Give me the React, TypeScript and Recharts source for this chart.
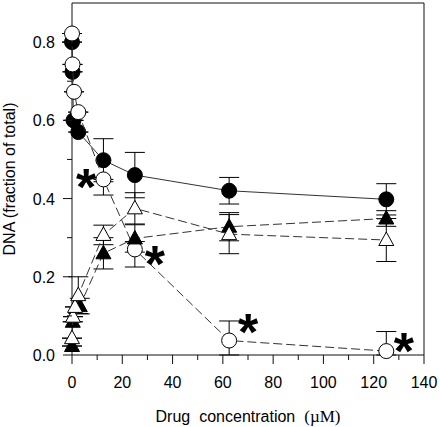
import { ScatterChart, Scatter, XAxis, YAxis, ErrorBar, ReferenceLine } from "recharts";

// filled circles (solid line)
const fcX = [0, 0.2, 0.6, 2.5, 12.5, 25, 62.5, 125];
const fcY = [0.8, 0.724, 0.6, 0.57, 0.498, 0.46, 0.42, 0.398];
const fcLo = [0, 0, 0, 0, 0.055, 0.058, 0.034, 0.04];
const fcHi = [0, 0, 0, 0, 0.055, 0.058, 0.034, 0.04];

// open circles (dashed)
const ocX = [0, 0.2, 0.8, 2.5, 12.5, 25, 62.5, 125];
const ocY = [0.822, 0.743, 0.673, 0.621, 0.449, 0.27, 0.037, 0.01];
const ocLo = [0, 0, 0, 0, 0.04, 0.045, 0.037, 0.01];
const ocHi = [0, 0, 0, 0, 0, 0.02, 0.05, 0.05];

// open triangles (dashed)
const otX = [0, 0.4, 1.2, 2.5, 12.5, 25, 62.5, 125];
const otY = [0.043, 0.098, 0.123, 0.153, 0.307, 0.375, 0.309, 0.294];
const otErr = [0, 0, 0, 0.047, 0.025, 0.04, 0.05, 0.055];

// filled triangles (dashed)
const ftX = [0, 0.3, 3.1, 12.5, 25, 62.5, 125];
const ftY = [0.023, 0.085, 0.125, 0.26, 0.298, 0.328, 0.349];
const ftErr = [0, 0, 0.02, 0.04, 0.035, 0.036, 0.02];

// significance marks
const starX = [5.6, 33, 70, 132];
const starY = [0.447, 0.25, 0.077, 0.028];

const xTicks = [0, 10, 20, 30, 40, 50, 60, 70, 80, 90, 100, 110, 120, 130, 140];
const yTicks = [0, 0.1, 0.2, 0.3, 0.4, 0.5, 0.6, 0.7, 0.8];

const build = (xs: number[], ys: number[], lo: number[], hi: number[]) =>
  xs.map((x, i) => ({ x, y: ys[i], err: [lo[i], hi[i]] }));

const fcData = build(fcX, fcY, fcLo, fcHi);
const ocData = build(ocX, ocY, ocLo, ocHi);
const otData = build(otX, otY, otErr, otErr);
const ftData = build(ftX, ftY, ftErr, ftErr);
const starData = starX.map((x, i) => ({ x, y: starY[i] }));

const FONT = "'Liberation Sans', Arial, sans-serif";
const INK = "#111";

const XTick = (p: any) => {
  const v = p.payload.value;
  const major = v % 20 === 0;
  return (
    <g>
      <line x1={p.x} x2={p.x} y1={p.y} y2={p.y + (major ? 9 : 5)} stroke={INK} />
      {major && (
        <text x={p.x} y={p.y + 33} textAnchor="middle" fontSize={16} fontFamily={FONT} fill="#000">
          {v}
        </text>
      )}
    </g>
  );
};

const YTick = (p: any) => {
  const v = p.payload.value;
  const major = Math.round(v * 10) % 2 === 0;
  return (
    <g>
      <line x1={p.x} x2={p.x - (major ? 9 : 5)} y1={p.y} y2={p.y} stroke={INK} />
      {major && (
        <text x={p.x - 17} y={p.y + 6} textAnchor="end" fontSize={16} fontFamily={FONT} fill="#000">
          {v.toFixed(1)}
        </text>
      )}
    </g>
  );
};

const XLabel = (p: any) => {
  const vb = p.viewBox;
  return (
    <text x={vb.x + vb.width / 2} y={vb.y + 67} textAnchor="middle" fontSize={16} fontFamily={FONT} fill="#000">
      Drug
      <tspan dx={9}>concentration</tspan>
      <tspan dx={9} fontFamily="'Liberation Serif', 'Times New Roman', serif" fontSize={17}>(µM)</tspan>
    </text>
  );
};

const YLabel = (p: any) => {
  const vb = p.viewBox;
  const cy = vb.y + vb.height / 2;
  return (
    <text x={15} y={cy} transform={`rotate(-90, 15, ${cy})`} textAnchor="middle" fontSize={16} fontFamily={FONT} fill="#000">
      DNA (fraction of total)
    </text>
  );
};

const FilledCircle = (p: any) => <circle cx={p.cx} cy={p.cy} r={7.5} fill="#000" stroke="#000" />;
const OpenCircle = (p: any) => <circle cx={p.cx} cy={p.cy} r={7.5} fill="#fff" stroke="#000" />;
const tri = (cx: number, cy: number) =>
  `${cx},${cy - 8} ${cx + 7.5},${cy + 5.5} ${cx - 7.5},${cy + 5.5}`;
const FilledTri = (p: any) => <polygon points={tri(p.cx, p.cy)} fill="#000" stroke="#000" />;
const OpenTri = (p: any) => <polygon points={tri(p.cx, p.cy)} fill="#fff" stroke="#000" />;
const Star = (p: any) => (
  <text x={p.cx} y={p.cy + 25} textAnchor="middle" fontSize={52} fontWeight="bold" fontFamily={FONT} fill="#000">
    *
  </text>
);

export default function App() {
  return (
    <div style={{ position: "absolute", left: 0, top: 0, background: "#fff" }}>
      <ScatterChart width={440} height={427} margin={{ top: 3, right: 16, left: 0, bottom: 0 }}>
        <XAxis
          type="number"
          dataKey="x"
          domain={[0, 140]}
          ticks={xTicks}
          interval={0}
          tickSize={0}
          tickMargin={0}
          tickLine={false}
          tick={<XTick />}
          axisLine={{ stroke: INK }}
          height={72}
          label={<XLabel />}
        />
        <YAxis
          type="number"
          dataKey="y"
          domain={[0, 0.9]}
          ticks={yTicks}
          interval={0}
          tickSize={0}
          tickMargin={0}
          tickLine={false}
          tick={<YTick />}
          axisLine={{ stroke: INK }}
          width={72}
          label={<YLabel />}
        />
        <ReferenceLine x={140} stroke={INK} />
        <ReferenceLine y={0.9} stroke={INK} />
        <Scatter data={fcData} line={{ stroke: "#333", strokeWidth: 1 }} lineType="joint" shape={<FilledCircle />} isAnimationActive={false}>
          <ErrorBar dataKey="err" direction="y" width={10} stroke="#000" strokeWidth={1} />
        </Scatter>
        <Scatter data={ocData} line={{ stroke: "#333", strokeWidth: 1, strokeDasharray: "9 4" }} lineType="joint" shape={<OpenCircle />} isAnimationActive={false}>
          <ErrorBar dataKey="err" direction="y" width={10} stroke="#000" strokeWidth={1} />
        </Scatter>
        <Scatter data={ftData} line={{ stroke: "#333", strokeWidth: 1, strokeDasharray: "9 4" }} lineType="joint" shape={<FilledTri />} isAnimationActive={false}>
          <ErrorBar dataKey="err" direction="y" width={10} stroke="#000" strokeWidth={1} />
        </Scatter>
        <Scatter data={otData} line={{ stroke: "#333", strokeWidth: 1, strokeDasharray: "9 4" }} lineType="joint" shape={<OpenTri />} isAnimationActive={false}>
          <ErrorBar dataKey="err" direction="y" width={10} stroke="#000" strokeWidth={1} />
        </Scatter>
        <Scatter data={starData} shape={<Star />} isAnimationActive={false} />
      </ScatterChart>
    </div>
  );
}
